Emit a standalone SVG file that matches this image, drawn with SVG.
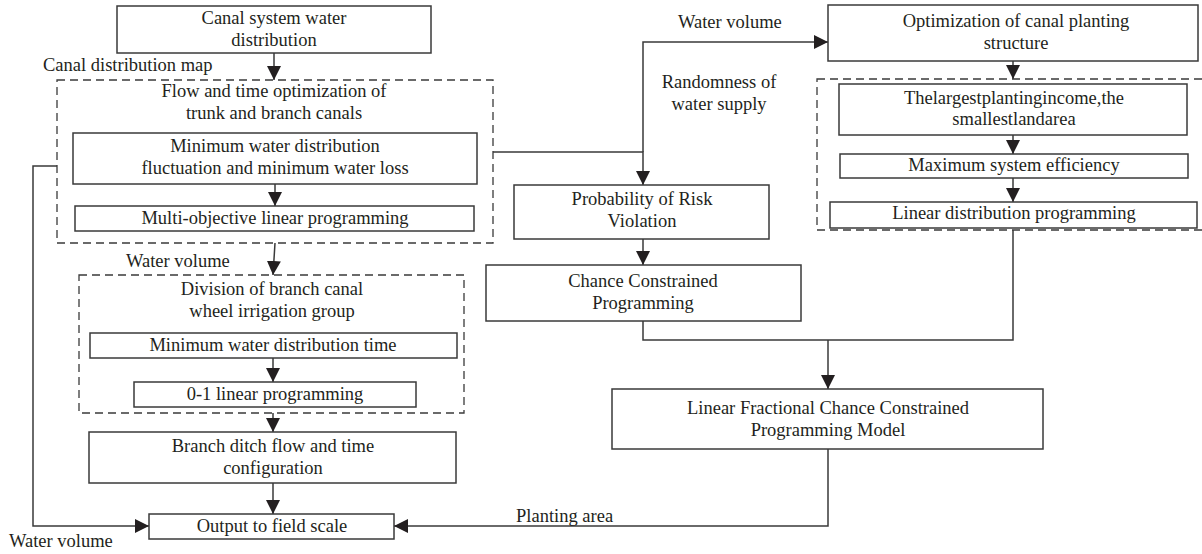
<svg xmlns="http://www.w3.org/2000/svg" width="1202" height="554" viewBox="0 0 1202 554">
<style>
  .box { fill: #ffffff; stroke: #3a3a3a; stroke-width: 1.5; }
  .dash { fill: none; stroke: #3a3a3a; stroke-width: 1.3; stroke-dasharray: 8 5; }
  .t { font-family: "Liberation Serif", "Times New Roman", serif; font-size: 18.5px; fill: #231f20; text-anchor: middle; }
  .l { font-family: "Liberation Serif", "Times New Roman", serif; font-size: 18.5px; fill: #231f20; }
  .c { fill: none; stroke: #3a3a3a; stroke-width: 1.5; }
</style>
<defs>
  <marker id="arr" markerUnits="userSpaceOnUse" markerWidth="14" markerHeight="14" refX="14" refY="7" orient="auto">
    <path d="M0,0 L14,7 L0,14 z" fill="#231f20"/>
  </marker>
</defs>
<rect width="1202" height="554" fill="#ffffff"/>

<g id="connectors">
  <path class="c" d="M274,53 V80" marker-end="url(#arr)"/>
  <path class="c" d="M275,184 V206" marker-end="url(#arr)"/>
  <path class="c" d="M275,243 L273,275" marker-end="url(#arr)"/>
  <path class="c" d="M273,358 V382" marker-end="url(#arr)"/>
  <path class="c" d="M273,413 V432" marker-end="url(#arr)"/>
  <path class="c" d="M273,483 V514" marker-end="url(#arr)"/>
  <path class="c" d="M57,166 H33 V526 H149" marker-end="url(#arr)"/>
  <path class="c" d="M493,152 H643 V185" marker-end="url(#arr)"/>
  <path class="c" d="M643,152 V42 H828" marker-end="url(#arr)"/>
  <path class="c" d="M643,239 V265" marker-end="url(#arr)"/>
  <path class="c" d="M643,321 V340 H1013 V230"/>
  <path class="c" d="M828,340 V389" marker-end="url(#arr)"/>
  <path class="c" d="M1013,61 V79" marker-end="url(#arr)"/>
  <path class="c" d="M1013,135 V154" marker-end="url(#arr)"/>
  <path class="c" d="M1013,178 V202" marker-end="url(#arr)"/>
  <path class="c" d="M828,449 V526 H394" marker-end="url(#arr)"/>
</g>

<g id="labels">
  <text class="l" x="43" y="71">Canal distribution map</text>
  <text class="l" x="126" y="267">Water volume</text>
  <text class="l" x="9" y="547">Water volume</text>
  <text class="l" x="678" y="28">Water volume</text>
  <text class="t" x="719" y="88">Randomness of</text>
  <text class="t" x="719" y="110">water supply</text>
  <text class="l" x="516" y="522">Planting area</text>
</g>

<g id="n-canal-system">
  <rect class="box" x="117" y="6" width="314" height="47"/>
  <text class="t" x="274" y="24">Canal system water</text>
  <text class="t" x="274" y="46">distribution</text>
</g>

<g id="n-flow-time-group">
  <rect class="dash" x="57" y="80" width="436" height="163"/>
  <text class="t" x="274" y="97">Flow and time optimization of</text>
  <text class="t" x="274" y="119">trunk and branch canals</text>
</g>

<g id="n-min-fluct">
  <rect class="box" x="73" y="133" width="404" height="51"/>
  <text class="t" x="275" y="152">Minimum water distribution</text>
  <text class="t" x="275" y="174">fluctuation and minimum water loss</text>
</g>

<g id="n-multi-obj">
  <rect class="box" x="75" y="206" width="399" height="25"/>
  <text class="t" x="275" y="224">Multi-objective linear programming</text>
</g>

<g id="n-division-group">
  <rect class="dash" x="79" y="275" width="385" height="138"/>
  <text class="t" x="272" y="295">Division of branch canal</text>
  <text class="t" x="272" y="317">wheel irrigation group</text>
</g>

<g id="n-min-time">
  <rect class="box" x="90" y="333" width="367" height="25"/>
  <text class="t" x="273" y="351">Minimum water distribution time</text>
</g>

<g id="n-01">
  <rect class="box" x="134" y="382" width="282" height="25"/>
  <text class="t" x="275" y="400">0-1 linear programming</text>
</g>

<g id="n-branch-ditch">
  <rect class="box" x="89" y="432" width="367" height="51"/>
  <text class="t" x="273" y="452">Branch ditch flow and time</text>
  <text class="t" x="273" y="474">configuration</text>
</g>

<g id="n-output">
  <rect class="box" x="149" y="514" width="245" height="25"/>
  <text class="t" x="272" y="532">Output to field scale</text>
</g>

<g id="n-probability">
  <rect class="box" x="514" y="185" width="255" height="54"/>
  <text class="t" x="642" y="205">Probability of Risk</text>
  <text class="t" x="642" y="227">Violation</text>
</g>

<g id="n-chance">
  <rect class="box" x="486" y="265" width="315" height="56"/>
  <text class="t" x="643" y="287">Chance Constrained</text>
  <text class="t" x="643" y="309">Programming</text>
</g>

<g id="n-lfccp">
  <rect class="box" x="612" y="389" width="431" height="60"/>
  <text class="t" x="828" y="414">Linear Fractional Chance Constrained</text>
  <text class="t" x="828" y="436">Programming Model</text>
</g>

<g id="n-optimization">
  <rect class="box" x="828" y="5" width="370" height="56"/>
  <text class="t" x="1016" y="27">Optimization of canal planting</text>
  <text class="t" x="1016" y="49">structure</text>
</g>

<g id="n-planting-group">
  <rect class="dash" x="817" y="79" width="390" height="151"/>
</g>

<g id="n-largest">
  <rect class="box" x="839" y="84" width="348" height="51"/>
  <text class="t" x="1014" y="104">Thelargestplantingincome,the</text>
  <text class="t" x="1014" y="125">smallestlandarea</text>
</g>

<g id="n-max-eff">
  <rect class="box" x="840" y="154" width="348" height="24"/>
  <text class="t" x="1014" y="171">Maximum system efficiency</text>
</g>

<g id="n-linear-dist">
  <rect class="box" x="830" y="202" width="367" height="26"/>
  <text class="t" x="1014" y="219">Linear distribution programming</text>
</g>
</svg>
